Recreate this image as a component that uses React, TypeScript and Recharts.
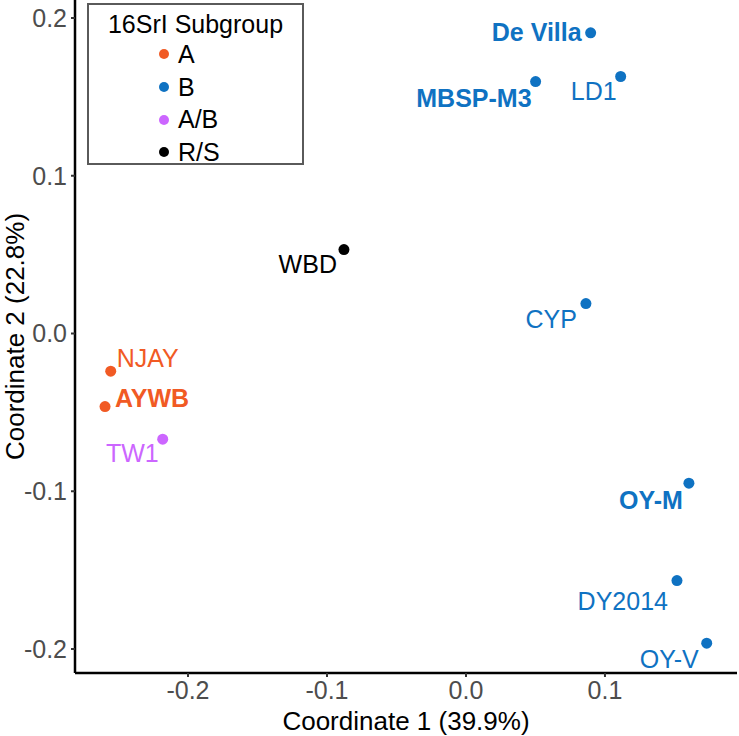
import React from 'react';
import { ScatterChart, Scatter, XAxis, YAxis } from 'recharts';

document.body.style.margin = '0';

const strains = ['De Villa', 'MBSP-M3', 'LD1', 'WBD', 'CYP', 'NJAY', 'AYWB', 'TW1', 'OY-M', 'DY2014', 'OY-V'];
const coord1 = [0.0897, 0.0501, 0.1113, -0.0878, 0.0863, -0.2556, -0.2597, -0.2182, 0.1604, 0.1518, 0.1732];
const coord2 = [0.1906, 0.1597, 0.1629, 0.0532, 0.019, -0.0239, -0.0463, -0.067, -0.0949, -0.1566, -0.1963];
const subgroupOf = ['B', 'B', 'B', 'R/S', 'B', 'A', 'A', 'A/B', 'B', 'B', 'B'];

const subgroups = ['A', 'B', 'A/B', 'R/S'];
const xTicks = [-0.2, -0.1, 0.0, 0.1];
const yTicks = [-0.2, -0.1, 0.0, 0.1, 0.2];

const colors: Record<string, string> = {
  A: '#F15A24',
  B: '#0F72C2',
  'A/B': '#CC66FF',
  'R/S': '#000000',
};

// where each strain name sits relative to its point
const labelPlacement: Record<string, { anchor: 'start' | 'end'; dx: number; dy: number; bold?: boolean }> = {
  'De Villa': { anchor: 'end', dx: -9, dy: -1, bold: true },
  'MBSP-M3': { anchor: 'end', dx: -4, dy: 16, bold: true },
  LD1: { anchor: 'end', dx: -4, dy: 14 },
  WBD: { anchor: 'end', dx: -7, dy: 14 },
  CYP: { anchor: 'end', dx: -9, dy: 15 },
  NJAY: { anchor: 'start', dx: 6, dy: -13 },
  AYWB: { anchor: 'start', dx: 10, dy: -9, bold: true },
  TW1: { anchor: 'end', dx: -4, dy: 14 },
  'OY-M': { anchor: 'end', dx: -6, dy: 17, bold: true },
  DY2014: { anchor: 'end', dx: -9, dy: 20 },
  'OY-V': { anchor: 'end', dx: -8, dy: 16 },
};

const points = strains.map((name, i) => ({ name, x: coord1[i], y: coord2[i], group: subgroupOf[i] }));

const FONT = '"Liberation Sans", Arial, sans-serif';

const PointWithLabel = (props: any) => {
  const { cx, cy, payload } = props;
  const color = colors[payload.group];
  const p = labelPlacement[payload.name];
  return (
    <g>
      <circle cx={cx} cy={cy} r={5.5} fill={color} />
      <text
        x={cx + p.dx}
        y={cy + p.dy}
        textAnchor={p.anchor}
        dominantBaseline="central"
        fill={color}
        fontSize={25}
        fontWeight={p.bold ? 'bold' : 'normal'}
        fontFamily={FONT}
      >
        {payload.name}
      </text>
    </g>
  );
};

const YTitle = (props: any) => {
  const { viewBox } = props;
  const x = 15;
  const y = viewBox.y + viewBox.height / 2;
  return (
    <text x={x} y={y} transform={`rotate(-90, ${x}, ${y})`} textAnchor="middle" dominantBaseline="central" fontSize={26} fontFamily={FONT} fill="#000">
      Coordinate 2 (22.8%)
    </text>
  );
};

const XTitle = (props: any) => {
  const { viewBox } = props;
  const x = viewBox.x + viewBox.width / 2;
  const y = viewBox.y + 48;
  return (
    <text x={x} y={y} textAnchor="middle" dominantBaseline="central" fontSize={26} fontFamily={FONT} fill="#000">
      Coordinate 1 (39.9%)
    </text>
  );
};

const LegendBox: React.FC = () => (
  <div
    style={{
      position: 'absolute',
      left: 87,
      top: 3,
      width: 217,
      height: 162,
      boxSizing: 'border-box',
      border: '2px solid #5a5a5a',
      background: '#fff',
      fontFamily: FONT,
    }}
  >
    <div style={{ textAlign: 'center', fontSize: 25, marginTop: 5, lineHeight: '28px' }}>16SrI Subgroup</div>
    {subgroups.map(g => (
      <div key={g} style={{ display: 'flex', alignItems: 'center', height: 32.7, paddingLeft: 70 }}>
        <span style={{ width: 10, height: 10, borderRadius: 5, background: colors[g], display: 'inline-block' }} />
        <span style={{ fontSize: 25, marginLeft: 9 }}>{g}</span>
      </div>
    ))}
  </div>
);

const App: React.FC = () => {
  const axisTick = { fill: '#4d4d4d', fontSize: 25, fontFamily: FONT };
  return (
    <div style={{ position: 'relative', width: 739, height: 736, background: '#fff' }}>
      <ScatterChart width={739} height={736} margin={{ top: 0, right: 2, bottom: 0, left: 0 }}>
        <XAxis
          type="number"
          dataKey="x"
          domain={[-0.2813, 0.195]}
          ticks={xTicks}
          allowDataOverflow
          height={63}
          tickFormatter={(v: number) => v.toFixed(1)}
          tick={axisTick}
          tickSize={4}
          tickMargin={4}
          axisLine={{ stroke: '#000', strokeWidth: 2.5 }}
          tickLine={{ stroke: '#333', strokeWidth: 2 }}
          label={<XTitle />}
        />
        <YAxis
          type="number"
          dataKey="y"
          domain={[-0.2152, 0.2114]}
          ticks={yTicks}
          allowDataOverflow
          width={75}
          tickFormatter={(v: number) => v.toFixed(1)}
          tick={axisTick}
          tickSize={4}
          tickMargin={4}
          axisLine={{ stroke: '#000', strokeWidth: 2.5 }}
          tickLine={{ stroke: '#333', strokeWidth: 2 }}
          label={<YTitle />}
        />
        {subgroups.map(g => (
          <Scatter
            key={g}
            name={g}
            data={points.filter(p => p.group === g)}
            fill={colors[g]}
            shape={PointWithLabel}
            isAnimationActive={false}
          />
        ))}
      </ScatterChart>
      <LegendBox />
    </div>
  );
};

export default App;
